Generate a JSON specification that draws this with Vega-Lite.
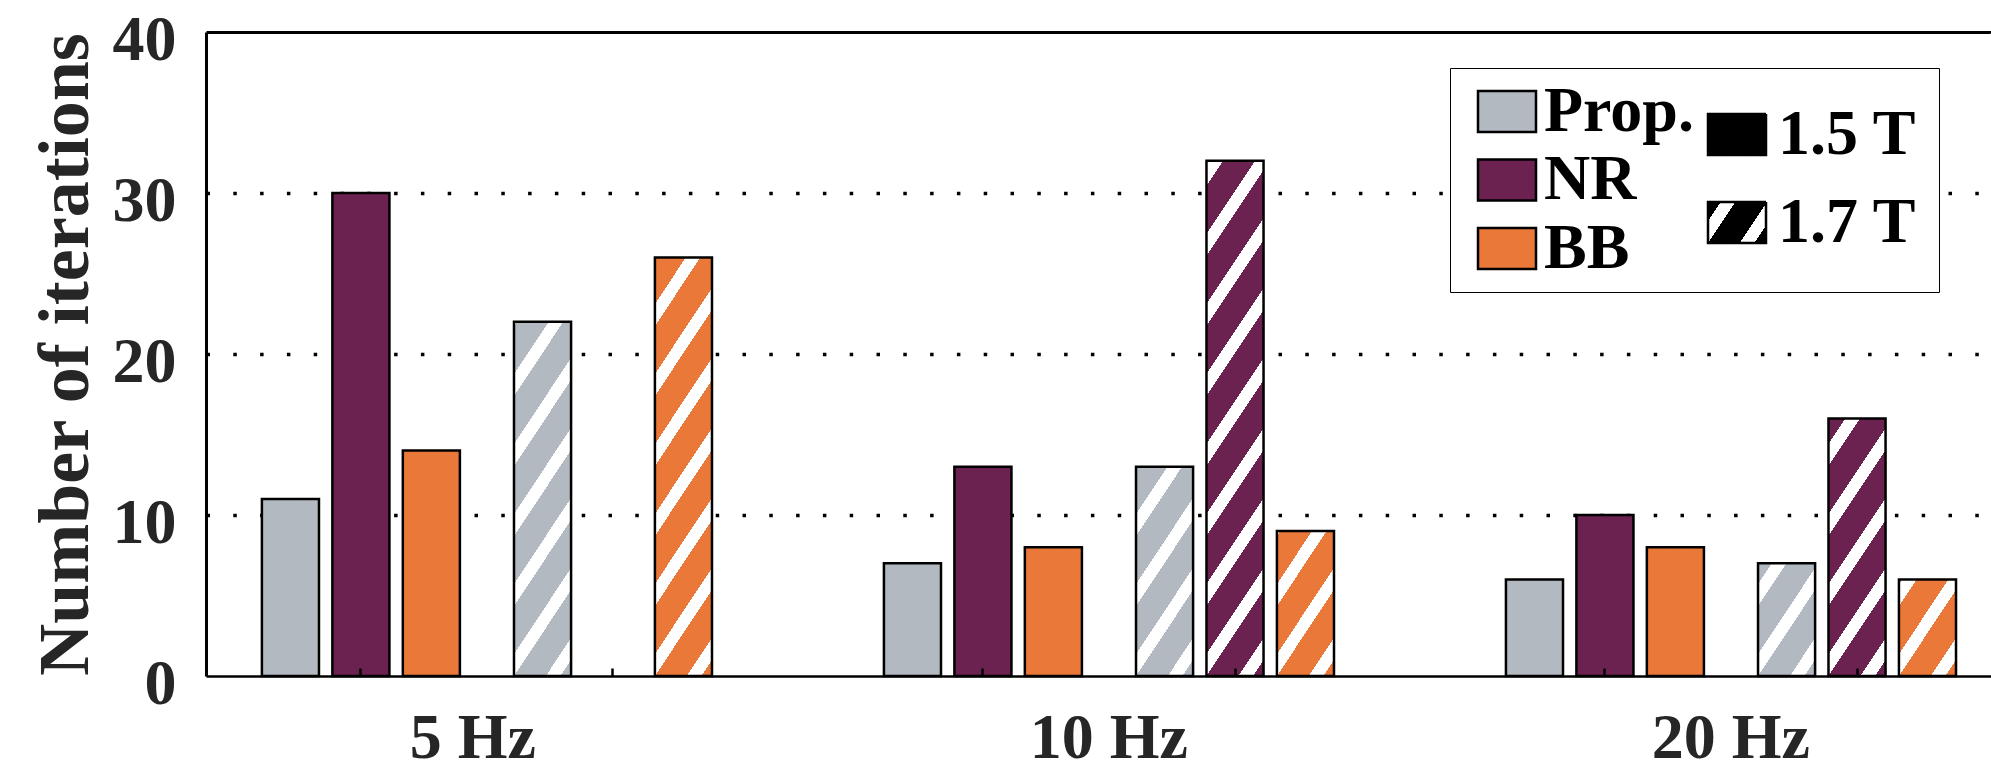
{
  "$schema": "https://vega.github.io/schema/vega-lite/v6.json",
  "autosize": {"type": "none"},
  "padding": {"left": 206, "top": 32, "right": 0, "bottom": 97},
  "width": 1785,
  "height": 644,
  "config": {"view": {"stroke": null}, "font": "Liberation Serif"},
  "data": {"values": [
    {"freq": "5 Hz", "set": "1.5 T", "method": "Prop.", "value": 11},
    {"freq": "5 Hz", "set": "1.5 T", "method": "NR", "value": 30},
    {"freq": "5 Hz", "set": "1.5 T", "method": "BB", "value": 14},
    {"freq": "5 Hz", "set": "1.7 T", "method": "Prop.", "value": 22},
    {"freq": "5 Hz", "set": "1.7 T", "method": "BB", "value": 26},
    {"freq": "10 Hz", "set": "1.5 T", "method": "Prop.", "value": 7},
    {"freq": "10 Hz", "set": "1.5 T", "method": "NR", "value": 13},
    {"freq": "10 Hz", "set": "1.5 T", "method": "BB", "value": 8},
    {"freq": "10 Hz", "set": "1.7 T", "method": "Prop.", "value": 13},
    {"freq": "10 Hz", "set": "1.7 T", "method": "NR", "value": 32},
    {"freq": "10 Hz", "set": "1.7 T", "method": "BB", "value": 9},
    {"freq": "20 Hz", "set": "1.5 T", "method": "Prop.", "value": 6},
    {"freq": "20 Hz", "set": "1.5 T", "method": "NR", "value": 10},
    {"freq": "20 Hz", "set": "1.5 T", "method": "BB", "value": 8},
    {"freq": "20 Hz", "set": "1.7 T", "method": "Prop.", "value": 7},
    {"freq": "20 Hz", "set": "1.7 T", "method": "NR", "value": 16},
    {"freq": "20 Hz", "set": "1.7 T", "method": "BB", "value": 6}
  ]},
  "resolve": {"scale": {"x": "independent", "xOffset": "independent"}, "axis": {"x": "independent"}},
  "layer": [
    {
      "transform": [{"filter": "datum.set === '1.5 T'"}],
      "mark": {"type": "bar", "stroke": "black", "strokeWidth": 2.5},
      "encoding": {
        "x": {"field": "freq", "type": "nominal",
          "scale": {"domain": ["5 Hz", "10 Hz", "20 Hz"], "paddingInner": 0.6817, "paddingOuter": 0.2757, "align": 0.163},
          "axis": {"title": null, "orient": "bottom", "domain": true, "domainColor": "black", "domainWidth": 2.5,
            "ticks": true, "tickColor": "black", "tickWidth": 2.5, "tickSize": -8,
            "labelOffset": {"condition": {"test": "datum.value === '5 Hz'", "value": 112}, "value": 126},
            "labelPadding": 38, "labelFont": "Liberation Serif", "labelFontWeight": "bold",
            "labelFontSize": 64, "labelColor": "#262626", "labelAngle": 0, "grid": false, "zindex": 1,
            "labelOverlap": false, "labelBound": false, "labelLimit": 1000}},
        "xOffset": {"field": "method", "type": "nominal", "scale": {"domain": ["Prop.", "NR", "BB"], "paddingInner": 0.19, "paddingOuter": 0}},
        "y": {"field": "value", "type": "quantitative", "scale": {"domain": [0, 40], "nice": false},
          "axis": {"values": [0, 10, 20, 30, 40], "title": "Number of iterations",
            "titleFont": "Liberation Serif", "titleFontWeight": "bold", "titleFontSize": 72, "titleColor": "#262626", "titlePadding": 10,
            "labelFont": "Liberation Serif", "labelFontWeight": "bold", "labelFontSize": 64, "labelColor": "#262626",
            "labelPadding": 30, "labelOffset": 8, "ticks": false, "domainColor": "black", "domainWidth": 3,
            "grid": true, "gridColor": "black",
            "gridWidth": {"condition": {"test": "datum.value === 40", "value": 3}, "value": 3.5},
            "gridDash": {"condition": {"test": "datum.value === 40", "value": [1, 0]}, "value": [3.5, 23.3]},
            "gridOpacity": {"condition": {"test": "datum.value === 0", "value": 0}, "value": 1},
            "zindex": 0}},
        "fill": {"field": "method", "type": "nominal",
          "scale": {"domain": ["Prop.", "NR", "BB"], "range": ["#B3B9C0", "#6B2250", "#EA7838"]},
          "legend": {"title": "00000000000000000000000", "titleOrient": "right", "titleOpacity": 0, "titleFontSize": 20, "titleFontWeight": "normal",
            "titleFont": "Liberation Serif", "titlePadding": 3.5, "titleLimit": 1000, "titleAngle": 0, "titleAnchor": "end", "titleBaseline": "bottom",
            "orient": "none", "legendX": 1244, "legendY": 36, "padding": 11.5, "rowPadding": 4.5,
            "symbolOffset": 13.5, "labelOffset": 5, "symbolType": "M-1,-0.707H1V0.707H-1Z", "symbolSize": 3364,
            "symbolStrokeColor": "black", "symbolStrokeWidth": 2.5,
            "labelFont": "Liberation Serif", "labelFontWeight": "bold", "labelFontSize": 64, "labelColor": "black", "labelLimit": 1000,
            "strokeColor": "black", "fillColor": "white", "zindex": 1,
            "encode": {"legend": {"strokeWidth": {"value": 3}}}}},
        "strokeDash": {"field": "set", "type": "nominal",
          "scale": {"domain": ["1.5 T", "1.7 T"], "range": [[1, 0], [1, 0]]},
          "legend": {"title": null, "orient": "none", "legendX": 1499, "legendY": 70.5, "padding": 0, "rowPadding": 24,
            "symbolOffset": 0, "labelOffset": 9, "symbolType": "M-1,-0.707H1V0.707H-1Z", "symbolSize": 3364,
            "symbolStrokeColor": "black", "symbolStrokeWidth": 2.5, "symbolDash": [1, 0], "symbolOpacity": 1,
            "symbolFillColor": {"expr": "datum.value === '1.7 T' ? {gradient: 'linear', x1: 0, y1: 0, x2: 1.2042, y2: 0.5643, stops: [{offset: 0, color: 'black'}, {offset: 0.1479, color: 'black'}, {offset: 0.1479, color: 'white'}, {offset: 0.3191, color: 'white'}, {offset: 0.3191, color: 'black'}, {offset: 0.6926, color: 'black'}, {offset: 0.6926, color: 'white'}, {offset: 0.8638, color: 'white'}, {offset: 0.8638, color: 'black'}, {offset: 1, color: 'black'}]} : 'black'"},
            "labelFont": "Liberation Serif", "labelFontWeight": "bold", "labelFontSize": 64, "labelColor": "black", "labelLimit": 1000,
            "zindex": 2}}
      }
    },
    {
      "transform": [{"filter": "datum.set === '1.7 T'"}],
      "mark": {"type": "bar", "stroke": "black", "strokeWidth": 2.5},
      "encoding": {
        "x": {"field": "freq", "type": "nominal",
          "scale": {"domain": ["5 Hz", "10 Hz", "20 Hz"], "paddingInner": 0.6817, "paddingOuter": 0.2757, "align": 0.898},
          "axis": {"title": null, "orient": "bottom", "domain": false, "labels": false,
            "ticks": true, "tickColor": "black", "tickWidth": 2.5, "tickSize": -8, "grid": false, "zindex": 1}},
        "xOffset": {"field": "method", "type": "nominal", "scale": {"domain": ["Prop.", "NR", "BB"], "paddingInner": 0.19, "paddingOuter": 0}},
        "y": {"field": "value", "type": "quantitative"},
        "fill": {
          "condition": [
            {"test": "datum.freq === '5 Hz' && datum.method === 'Prop.'", "value": {"gradient": "linear", "x1": 0, "y1": 0, "x2": 0.2850, "y2": 1.1736, "stops": [
              {"offset": 0, "color": "white"}, {"offset": 0.0095, "color": "white"}, {"offset": 0.0095, "color": "#B3B9C0"}, {"offset": 0.1186, "color": "#B3B9C0"},
              {"offset": 0.1186, "color": "white"}, {"offset": 0.1686, "color": "white"}, {"offset": 0.1686, "color": "#B3B9C0"}, {"offset": 0.2776, "color": "#B3B9C0"},
              {"offset": 0.2776, "color": "white"}, {"offset": 0.3276, "color": "white"}, {"offset": 0.3276, "color": "#B3B9C0"}, {"offset": 0.4366, "color": "#B3B9C0"},
              {"offset": 0.4366, "color": "white"}, {"offset": 0.4866, "color": "white"}, {"offset": 0.4866, "color": "#B3B9C0"}, {"offset": 0.5956, "color": "#B3B9C0"},
              {"offset": 0.5956, "color": "white"}, {"offset": 0.6456, "color": "white"}, {"offset": 0.6456, "color": "#B3B9C0"}, {"offset": 0.7547, "color": "#B3B9C0"},
              {"offset": 0.7547, "color": "white"}, {"offset": 0.8046, "color": "white"}, {"offset": 0.8046, "color": "#B3B9C0"}, {"offset": 0.9137, "color": "#B3B9C0"},
              {"offset": 0.9137, "color": "white"}, {"offset": 0.9637, "color": "white"}, {"offset": 0.9637, "color": "#B3B9C0"}, {"offset": 1, "color": "#B3B9C0"}]}},
            {"test": "datum.freq === '5 Hz' && datum.method === 'BB'", "value": {"gradient": "linear", "x1": 0, "y1": 0, "x2": 0.2376, "y2": 1.1566, "stops": [
              {"offset": 0, "color": "#EA7838"}, {"offset": 0.0924, "color": "#EA7838"}, {"offset": 0.0924, "color": "white"}, {"offset": 0.1360, "color": "white"},
              {"offset": 0.1360, "color": "#EA7838"}, {"offset": 0.2311, "color": "#EA7838"}, {"offset": 0.2311, "color": "white"}, {"offset": 0.2747, "color": "white"},
              {"offset": 0.2747, "color": "#EA7838"}, {"offset": 0.3698, "color": "#EA7838"}, {"offset": 0.3698, "color": "white"}, {"offset": 0.4134, "color": "white"},
              {"offset": 0.4134, "color": "#EA7838"}, {"offset": 0.5085, "color": "#EA7838"}, {"offset": 0.5085, "color": "white"}, {"offset": 0.5521, "color": "white"},
              {"offset": 0.5521, "color": "#EA7838"}, {"offset": 0.6472, "color": "#EA7838"}, {"offset": 0.6472, "color": "white"}, {"offset": 0.6908, "color": "white"},
              {"offset": 0.6908, "color": "#EA7838"}, {"offset": 0.7860, "color": "#EA7838"}, {"offset": 0.7860, "color": "white"}, {"offset": 0.8296, "color": "white"},
              {"offset": 0.8296, "color": "#EA7838"}, {"offset": 0.9247, "color": "#EA7838"}, {"offset": 0.9247, "color": "white"}, {"offset": 0.9683, "color": "white"},
              {"offset": 0.9683, "color": "#EA7838"}, {"offset": 1, "color": "#EA7838"}]}},
            {"test": "datum.freq === '10 Hz' && datum.method === 'Prop.'", "value": {"gradient": "linear", "x1": 0, "y1": 0, "x2": 0.4960, "y2": 1.2071, "stops": [
              {"offset": 0, "color": "#B3B9C0"}, {"offset": 0.1602, "color": "#B3B9C0"}, {"offset": 0.1602, "color": "white"}, {"offset": 0.2347, "color": "white"},
              {"offset": 0.2347, "color": "#B3B9C0"}, {"offset": 0.3972, "color": "#B3B9C0"}, {"offset": 0.3972, "color": "white"}, {"offset": 0.4717, "color": "white"},
              {"offset": 0.4717, "color": "#B3B9C0"}, {"offset": 0.6343, "color": "#B3B9C0"}, {"offset": 0.6343, "color": "white"}, {"offset": 0.7088, "color": "white"},
              {"offset": 0.7088, "color": "#B3B9C0"}, {"offset": 0.8713, "color": "#B3B9C0"}, {"offset": 0.8713, "color": "white"}, {"offset": 0.9458, "color": "white"},
              {"offset": 0.9458, "color": "#B3B9C0"}, {"offset": 1, "color": "#B3B9C0"}]}},
            {"test": "datum.freq === '10 Hz' && datum.method === 'NR'", "value": {"gradient": "linear", "x1": 0, "y1": 0, "x2": 0.1895, "y2": 1.1353, "stops": [
              {"offset": 0, "color": "#6B2250"}, {"offset": 0.0053, "color": "#6B2250"}, {"offset": 0.0053, "color": "white"}, {"offset": 0.0419, "color": "white"},
              {"offset": 0.0419, "color": "#6B2250"}, {"offset": 0.1218, "color": "#6B2250"}, {"offset": 0.1218, "color": "white"}, {"offset": 0.1584, "color": "white"},
              {"offset": 0.1584, "color": "#6B2250"}, {"offset": 0.2382, "color": "#6B2250"}, {"offset": 0.2382, "color": "white"}, {"offset": 0.2748, "color": "white"},
              {"offset": 0.2748, "color": "#6B2250"}, {"offset": 0.3546, "color": "#6B2250"}, {"offset": 0.3546, "color": "white"}, {"offset": 0.3912, "color": "white"},
              {"offset": 0.3912, "color": "#6B2250"}, {"offset": 0.4711, "color": "#6B2250"}, {"offset": 0.4711, "color": "white"}, {"offset": 0.5077, "color": "white"},
              {"offset": 0.5077, "color": "#6B2250"}, {"offset": 0.5875, "color": "#6B2250"}, {"offset": 0.5875, "color": "white"}, {"offset": 0.6241, "color": "white"},
              {"offset": 0.6241, "color": "#6B2250"}, {"offset": 0.7039, "color": "#6B2250"}, {"offset": 0.7039, "color": "white"}, {"offset": 0.7405, "color": "white"},
              {"offset": 0.7405, "color": "#6B2250"}, {"offset": 0.8204, "color": "#6B2250"}, {"offset": 0.8204, "color": "white"}, {"offset": 0.8570, "color": "white"},
              {"offset": 0.8570, "color": "#6B2250"}, {"offset": 0.9368, "color": "#6B2250"}, {"offset": 0.9368, "color": "white"}, {"offset": 0.9734, "color": "white"},
              {"offset": 0.9734, "color": "#6B2250"}, {"offset": 1, "color": "#6B2250"}]}},
            {"test": "datum.freq === '10 Hz' && datum.method === 'BB'", "value": {"gradient": "linear", "x1": 0, "y1": 0, "x2": 0.6994, "y2": 1.1784, "stops": [
              {"offset": 0, "color": "white"}, {"offset": 0.0212, "color": "white"}, {"offset": 0.0212, "color": "#EA7838"}, {"offset": 0.2291, "color": "#EA7838"},
              {"offset": 0.2291, "color": "white"}, {"offset": 0.3244, "color": "white"}, {"offset": 0.3244, "color": "#EA7838"}, {"offset": 0.5323, "color": "#EA7838"},
              {"offset": 0.5323, "color": "white"}, {"offset": 0.6275, "color": "white"}, {"offset": 0.6275, "color": "#EA7838"}, {"offset": 0.8354, "color": "#EA7838"},
              {"offset": 0.8354, "color": "white"}, {"offset": 0.9307, "color": "white"}, {"offset": 0.9307, "color": "#EA7838"}, {"offset": 1, "color": "#EA7838"}]}},
            {"test": "datum.freq === '20 Hz' && datum.method === 'Prop.'", "value": {"gradient": "linear", "x1": 0, "y1": 0, "x2": 0.8503, "y2": 1.1143, "stops": [
              {"offset": 0, "color": "#B3B9C0"}, {"offset": 0.1042, "color": "#B3B9C0"}, {"offset": 0.1042, "color": "white"}, {"offset": 0.2149, "color": "white"},
              {"offset": 0.2149, "color": "#B3B9C0"}, {"offset": 0.4565, "color": "#B3B9C0"}, {"offset": 0.4565, "color": "white"}, {"offset": 0.5672, "color": "white"},
              {"offset": 0.5672, "color": "#B3B9C0"}, {"offset": 0.8088, "color": "#B3B9C0"}, {"offset": 0.8088, "color": "white"}, {"offset": 0.9195, "color": "white"},
              {"offset": 0.9195, "color": "#B3B9C0"}, {"offset": 1, "color": "#B3B9C0"}]}},
            {"test": "datum.freq === '20 Hz' && datum.method === 'NR'", "value": {"gradient": "linear", "x1": 0, "y1": 0, "x2": 0.4007, "y2": 1.2001, "stops": [
              {"offset": 0, "color": "#6B2250"}, {"offset": 0.0745, "color": "#6B2250"}, {"offset": 0.0745, "color": "white"}, {"offset": 0.1385, "color": "white"},
              {"offset": 0.1385, "color": "#6B2250"}, {"offset": 0.2782, "color": "#6B2250"}, {"offset": 0.2782, "color": "white"}, {"offset": 0.3423, "color": "white"},
              {"offset": 0.3423, "color": "#6B2250"}, {"offset": 0.4820, "color": "#6B2250"}, {"offset": 0.4820, "color": "white"}, {"offset": 0.5460, "color": "white"},
              {"offset": 0.5460, "color": "#6B2250"}, {"offset": 0.6857, "color": "#6B2250"}, {"offset": 0.6857, "color": "white"}, {"offset": 0.7497, "color": "white"},
              {"offset": 0.7497, "color": "#6B2250"}, {"offset": 0.8894, "color": "#6B2250"}, {"offset": 0.8894, "color": "white"}, {"offset": 0.9534, "color": "white"},
              {"offset": 0.9534, "color": "#6B2250"}, {"offset": 1, "color": "#6B2250"}]}},
            {"test": "datum.freq === '20 Hz' && datum.method === 'BB'", "value": {"gradient": "linear", "x1": 0, "y1": 0, "x2": 0.9388, "y2": 1.0545, "stops": [
              {"offset": 0, "color": "#EA7838"}, {"offset": 0.0252, "color": "#EA7838"}, {"offset": 0.0252, "color": "white"}, {"offset": 0.1457, "color": "white"},
              {"offset": 0.1457, "color": "#EA7838"}, {"offset": 0.4085, "color": "#EA7838"}, {"offset": 0.4085, "color": "white"}, {"offset": 0.5290, "color": "white"},
              {"offset": 0.5290, "color": "#EA7838"}, {"offset": 0.7919, "color": "#EA7838"}, {"offset": 0.7919, "color": "white"}, {"offset": 0.9124, "color": "white"},
              {"offset": 0.9124, "color": "#EA7838"}, {"offset": 1, "color": "#EA7838"}]}}
          ],
          "value": "black"
        }
      }
    }
  ]
}
